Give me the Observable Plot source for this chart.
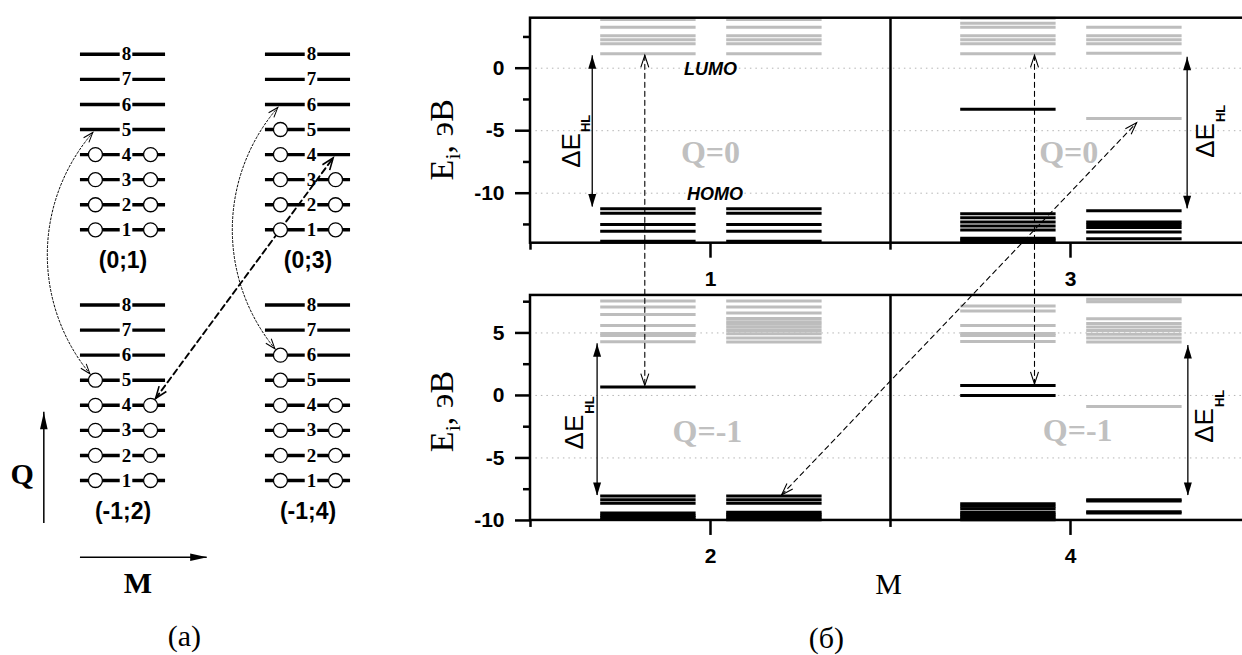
<!DOCTYPE html>
<html>
<head>
<meta charset="utf-8">
<script src="https://cdn.jsdelivr.net/npm/d3@7"></script>
<script src="https://cdn.jsdelivr.net/npm/@observablehq/plot@0.6"></script>
<style>
  html, body { margin: 0; padding: 0; background: #fff; overflow: hidden; }
  #figure { position: relative; width: 1242px; height: 655px; overflow: hidden; background: #fff; }
  #figure > div { position: absolute; top: 0; }
  #figure svg { max-width: none; overflow: visible; }
</style>
</head>
<body>
<div id="figure">
  <div id="scheme" style="left:0px"></div>
  <div id="spectra" style="left:400px"></div>
</div>
<script>
// ================= (a) occupation scheme =================
const levelNumbers = [1, 2, 3, 4, 5, 6, 7, 8];
const stateNames  = ["(0;1)", "(0;3)", "(-1;2)", "(-1;4)"];
const stateColumn = [0, 1, 0, 1];   // along M
const stateRow    = [1, 1, 0, 0];   // along Q (1: Q = 0, 0: Q = -1)
const filledUp    = [4, 5, 5, 6];   // highest filled level, left column
const filledDown  = [4, 3, 4, 4];   // highest filled level, right column

// transitions: [state, level, side], side -1 = left column, +1 = right column
const jumpFromA = [[2, 5, -1], [3, 6, -1], [2, 4, 1]];
const jumpToA   = [[0, 5, -1], [1, 6, -1], [1, 4, 1]];
const jumpBendA = [42, 42, 0];
const jumpKindA = ["dotted", "dotted", "dashed"];

// ================= (б) one-electron spectra, eV =================
// Q = 0
const occ_Q0_M1_up  = [-11.25, -11.6, -12.5, -13.04, -13.85];
const occ_Q0_M1_dn  = [-11.25, -11.6, -12.5, -13.04, -13.85];
const virt_Q0_M1_up = [3.9, 3.28, 2.6, 2.27, 1.95, 1.15];
const virt_Q0_M1_dn = [3.9, 3.28, 2.6, 2.27, 1.95, 1.15];
const occ_Q0_M3_up  = [-3.28, -11.65, -11.97, -12.3, -12.62, -12.95, -13.6, -13.75, -13.9];
const occ_Q0_M3_dn  = [-11.4, -12.3, -12.5, -12.75, -13.1, -13.65];
const virt_Q0_M3_up = [4.0, 3.6, 3.28, 2.6, 2.27, 1.95, 1.15];
const virt_Q0_M3_dn = [3.28, 2.6, 2.27, 1.95, 1.2, -4.02];
// Q = -1
const occ_Qm1_M2_up  = [0.67, -8.05, -8.34, -8.63, -9.4, -9.6, -9.75, -9.9];
const occ_Qm1_M2_dn  = [-8.05, -8.34, -8.63, -9.35, -9.5, -9.65, -9.8, -9.95];
const virt_Qm1_M2_up = [7.55, 7.07, 6.47, 5.6, 4.95, 4.8, 4.3];
const virt_Qm1_M2_dn = [7.55, 7.07, 6.6, 6.15, 5.9, 5.7, 5.45, 5.2, 4.93, 4.6, 4.27];
const occ_Qm1_M4_up  = [0.8, 0.0, -8.67, -8.87, -9.07, -9.35, -9.5, -9.65, -9.8, -9.95];
const occ_Qm1_M4_dn  = [-8.35, -8.45, -9.3, -9.4];
const virt_Qm1_M4_up = [7.15, 6.75, 5.6, 4.95, 4.8, 4.32];
const virt_Qm1_M4_dn = [7.7, 7.5, 6.13, 5.75, 5.47, 5.2, 4.9, 4.6, 4.27, -0.88];

const clusterQ    = [0, 0, -1, -1];
const clusterM    = [1, 3, 2, 4];
const clusterSlot = [0, 1, 0, 1];
const clusterOcc  = [[occ_Q0_M1_up, occ_Q0_M1_dn], [occ_Q0_M3_up, occ_Q0_M3_dn],
                     [occ_Qm1_M2_up, occ_Qm1_M2_dn], [occ_Qm1_M4_up, occ_Qm1_M4_dn]];
const clusterVirt = [[virt_Q0_M1_up, virt_Q0_M1_dn], [virt_Q0_M3_up, virt_Q0_M3_dn],
                     [virt_Qm1_M2_up, virt_Qm1_M2_dn], [virt_Qm1_M4_up, virt_Qm1_M4_dn]];

const eRangeQ0 = [-14, 4],  eTicksQ0 = [0, -5, -10],    eMinorQ0 = [2.5, -2.5, -7.5, -12.5];
const eRangeQm1 = [-10, 8], eTicksQm1 = [5, 0, -5, -10], eMinorQm1 = [7.5, 2.5, -2.5, -7.5];

// HOMO–LUMO gap arrows
const gapQ = [0, 0, -1, -1];
const gapX = [0.343, 3.648, 0.37, 3.652];
const gapHigh = [1.0, 0.88, 4.13, 4.0];
const gapLow = [-11.1, -11.25, -8.0, -8.0];
const gapLabelX = [0.226, 3.75, 0.244, 3.744];
const gapLabelE = [-6.58, -5.78, -2.93, -2.4];

// panel captions
const qLabelText = ["Q=0", "Q=0", "Q=-1", "Q=-1"];
const qLabelX = [1.0, 2.99, 0.983, 3.04];
const qLabelE = [-6.76, -6.76, -2.94, -2.8];

// electron transfers between clusters: x, E, Q for both ends
const jumpX1 = [0.635, 2.8, 1.389];
const jumpE1 = [d3.min(virt_Q0_M1_up), d3.min(virt_Q0_M3_up), d3.max(occ_Qm1_M2_dn)];
const jumpQ1 = [0, 0, -1];
const jumpX2 = [0.635, 2.8, 3.39];
const jumpE2 = [d3.max(occ_Qm1_M2_up), d3.max(occ_Qm1_M4_up), d3.min(virt_Q0_M3_dn)];
const jumpQ2 = [-1, -1, 0];
const jumpInset1 = [1.5, 1.5, 1.5];
const jumpInset2 = [1.5, 1.5, 6];

// ================= shared helpers =================
const H = 655;
const SANS = "Liberation Sans, Arial, Helvetica, sans-serif";
const SERIF = "Liberation Serif, Times New Roman, serif";
const deg = 180 / Math.PI;

const spike = (len, hw) => ({draw(ctx) { ctx.moveTo(0, 0); ctx.lineTo(-hw, len); ctx.lineTo(hw, len); ctx.closePath(); }});
const chevron = (len, hw) => ({draw(ctx) { ctx.moveTo(-hw, len); ctx.lineTo(0, 0); ctx.lineTo(hw, len); }});
const rotOf = (d) => Math.atan2(d[0], -d[1]) * deg;

// trims a straight or circular connector (screen coordinates) by s1/s2 pixels at its ends
function connector(P1, P2, bendDeg, s1, s2) {
  const dx = P2[0] - P1[0], dy = P2[1] - P1[1];
  const L = Math.hypot(dx, dy), phi = Math.atan2(dy, dx);
  const th = bendDeg / deg;
  if (!th) {
    const ux = dx / L, uy = dy / L;
    return {A: [P1[0] + ux * s1, P1[1] + uy * s1], B: [P2[0] - ux * s2, P2[1] - uy * s2],
            bend: 0, dirA: [-ux, -uy], dirB: [ux, uy]};
  }
  const r = L / (2 * Math.sin(th));
  const mx = (P1[0] + P2[0]) / 2, my = (P1[1] + P2[1]) / 2;
  const C = [mx - Math.sin(phi) * r * Math.cos(th), my + Math.cos(phi) * r * Math.cos(th)];
  const a1o = Math.atan2(P1[1] - C[1], P1[0] - C[0]);
  const a1 = a1o + 2 * Math.asin(s1 / (2 * r));
  const a2 = a1o + 2 * th - 2 * Math.asin(s2 / (2 * r));
  return {A: [C[0] + r * Math.cos(a1), C[1] + r * Math.sin(a1)],
          B: [C[0] + r * Math.cos(a2), C[1] + r * Math.sin(a2)],
          bend: (a2 - a1) / 2 * deg,
          dirA: [Math.sin(a1), -Math.cos(a1)], dirB: [-Math.sin(a2), Math.cos(a2)]};
}

// ================= (a) =================
const LA = {width: 400, col0: 122.5, colStep: 185, lvl1: 480, lvlStep: 25.07, rowStep: 10, slot: 0.149, half: 0.23};
const xDomA = [-LA.col0 / LA.colStep, (LA.width - LA.col0) / LA.colStep];
const yDomA = [1 - (H - LA.lvl1) / LA.lvlStep, 1 + LA.lvl1 / LA.lvlStep];
const sxA = Plot.scale({x: {domain: xDomA, range: [0, LA.width]}});
const syA = Plot.scale({y: {domain: yDomA, range: [H, 0]}});
const vA = (s, k) => k + LA.rowStep * stateRow[s];
const isFilled = (s, k, side) => side < 0 ? k <= filledUp[s] : k <= filledDown[s];

const segA = [], numA = [], dotA = [];
stateNames.forEach((name, s) => {
  const c = stateColumn[s];
  levelNumbers.forEach(k => {
    const v = vA(s, k);
    segA.push({x1: c - LA.half, x2: c - 0.015, v});
    segA.push({x1: c + 0.053, x2: c + LA.half, v});
    numA.push({x: c + 0.019, v, t: String(k)});
    if (isFilled(s, k, -1)) dotA.push({x: c - LA.slot, v});
    if (isFilled(s, k, 1)) dotA.push({x: c + LA.slot, v});
  });
});
const stateLabelA = stateNames.map((t, s) => ({x: stateColumn[s], v: LA.rowStep * stateRow[s] - 0.23, t}));

const jumpsA = jumpFromA.map((f, i) => {
  const t = jumpToA[i];
  const P1 = [sxA.apply(stateColumn[f[0]] + f[2] * LA.slot), syA.apply(vA(f[0], f[1]))];
  const P2 = [sxA.apply(stateColumn[t[0]] + t[2] * LA.slot), syA.apply(vA(t[0], t[1]))];
  const g = connector(P1, P2, jumpBendA[i], isFilled(...f) ? 8.5 : 4, isFilled(...t) ? 8.5 : 4);
  return {x1: sxA.invert(g.A[0]), y1: syA.invert(g.A[1]), x2: sxA.invert(g.B[0]), y2: syA.invert(g.B[1]),
          bend: g.bend, kind: jumpKindA[i], rA: rotOf(g.dirA), rB: rotOf(g.dirB)};
});
const headsA = jumpsA.flatMap(d => [{x: d.x1, y: d.y1, r: d.rA, kind: d.kind}, {x: d.x2, y: d.y2, r: d.rB, kind: d.kind}]);

// Q and M directions
const axisQ = [{x: -0.428, v1: -0.715, v2: 3.72}];
const axisM = [{v: -2.06, x1: -0.23, x2: 0.455}];

const chartA = Plot.plot({
  width: LA.width, height: H, margin: 0,
  x: {domain: xDomA, range: [0, LA.width], axis: null},
  y: {domain: yDomA, range: [H, 0], axis: null},
  style: {fontFamily: SANS, background: "transparent", overflow: "visible"},
  marks: [
    Plot.ruleY(segA, {y: "v", x1: "x1", x2: "x2", stroke: "black", strokeWidth: 3.4}),
    ...jumpsA.map(d => Plot.arrow([d], {
      x1: "x1", y1: "y1", x2: "x2", y2: "y2", bend: d.bend, headLength: 0,
      stroke: "black",
      strokeWidth: d.kind === "dashed" ? 1.9 : 1,
      strokeDasharray: d.kind === "dashed" ? "6,4" : "2,2"
    })),
    Plot.dot(dotA, {x: "x", y: "v", r: 7, fill: "white", stroke: "black", strokeWidth: 1.3}),
    Plot.text(numA, {x: "x", y: "v", text: "t", fontFamily: SERIF, fontWeight: "bold", fontSize: 19}),
    Plot.text(stateLabelA, {x: "x", y: "v", text: "t", fontWeight: "bold", fontSize: 23}),
    Plot.dot(headsA.filter(d => d.kind === "dotted"), {x: "x", y: "y", rotate: "r", symbol: chevron(10, 3.5), fill: "none", stroke: "black", strokeWidth: 1}),
    Plot.dot(headsA.filter(d => d.kind === "dashed"), {x: "x", y: "y", rotate: "r", symbol: chevron(12, 4.5), fill: "none", stroke: "black", strokeWidth: 1.6}),
    // Q axis
    Plot.ruleX(axisQ, {x: "x", y1: "v1", y2: "v2", stroke: "black", strokeWidth: 1.5}),
    Plot.dot(axisQ, {x: "x", y: "v2", rotate: 0, symbol: spike(17, 3.8), fill: "black", stroke: "none"}),
    Plot.text(axisQ, {x: d => d.x - 0.117, y: () => 1.24, text: () => "Q", fontFamily: SERIF, fontWeight: "bold", fontSize: 30}),
    // M axis
    Plot.ruleY(axisM, {y: "v", x1: "x1", x2: "x2", stroke: "black", strokeWidth: 1.5}),
    Plot.dot(axisM, {x: "x2", y: "v", rotate: 90, symbol: spike(17, 3.8), fill: "black", stroke: "none"}),
    Plot.text(axisM, {x: () => 0.081, y: () => -3.11, text: () => "M", fontFamily: SERIF, fontWeight: "bold", fontSize: 30}),
    // caption
    Plot.text(["(a)"], {x: () => 0.332, y: () => -5.2, text: d => d, fontFamily: SERIF, fontSize: 30})
  ]
});
document.getElementById("scheme").append(chartA);

// ================= (б) =================
const LB = {width: 860, ml: 130, mr: 10, mt: 17.7, mb: 135.05, gapE: 26.18};
const vB = (q, e) => q === 0 ? e : e - LB.gapE;
const yDomB = [vB(-1, eRangeQm1[0]), vB(0, eRangeQ0[1])];
const sxB = Plot.scale({x: {domain: [0, 4], range: [LB.ml, LB.width - LB.mr]}});
const syB = Plot.scale({y: {domain: yDomB, range: [H - LB.mb, LB.mt]}});
const pxPerE = syB.apply(0) - syB.apply(1);
const minorLen = 7 / pxPerE, majorLen = 15 / pxPerE;

const levelRows = [];
clusterQ.forEach((q, i) => {
  const c = 1 + 2 * clusterSlot[i];
  const spans = [[c - 0.61, c - 0.08], [c + 0.09, c + 0.62]];
  [0, 1].forEach(side => {
    clusterVirt[i][side].forEach(e => levelRows.push({v: vB(q, e), x1: spans[side][0], x2: spans[side][1], occ: false}));
    clusterOcc[i][side].forEach(e => levelRows.push({v: vB(q, e), x1: spans[side][0], x2: spans[side][1], occ: true}));
  });
});

const frameRows = [
  {lo: vB(0, eRangeQ0[0]), hi: vB(0, eRangeQ0[1])},
  {lo: vB(-1, eRangeQm1[0]), hi: vB(-1, eRangeQm1[1])}
];
const gridRows = [...eTicksQ0.filter(e => e > eRangeQ0[0]).map(e => ({v: vB(0, e)})),
                  ...eTicksQm1.filter(e => e > eRangeQm1[0]).map(e => ({v: vB(-1, e)}))];
const yMajor = [...eTicksQ0.map(e => vB(0, e)), ...eTicksQm1.map(e => vB(-1, e))];
const yMajorText = new Map([...eTicksQ0.map(e => [vB(0, e), String(e)]), ...eTicksQm1.map(e => [vB(-1, e), String(e)])]);
const yMinor = [...eMinorQ0.map(e => vB(0, e)), ...eMinorQm1.map(e => vB(-1, e))];

// column ticks: top row labelled with M of Q = 0 clusters, bottom row with Q = -1 clusters
const colTicks = [1, 3];
const topRowLabels = colTicks.map((x, j) => ({x, t: String(clusterM[j])}));
const bottomText = new Map(colTicks.map((x, j) => [x, String(clusterM[2 + j])]));

const gapRows = gapQ.map((q, i) => ({x: gapX[i], hi: vB(q, gapHigh[i]), lo: vB(q, gapLow[i]),
                                      lx: gapLabelX[i], lv: vB(q, gapLabelE[i])}));
const qRows = qLabelText.map((t, i) => ({x: qLabelX[i], v: vB(i < 2 ? 0 : -1, qLabelE[i]), t}));

const jumpsB = jumpX1.map((x1, i) => {
  const P1 = [sxB.apply(x1), syB.apply(vB(jumpQ1[i], jumpE1[i]))];
  const P2 = [sxB.apply(jumpX2[i]), syB.apply(vB(jumpQ2[i], jumpE2[i]))];
  const g = connector(P1, P2, 0, jumpInset1[i], jumpInset2[i]);
  return {x1: sxB.invert(g.A[0]), y1: syB.invert(g.A[1]), x2: sxB.invert(g.B[0]), y2: syB.invert(g.B[1]),
          rA: rotOf(g.dirA), rB: rotOf(g.dirB)};
});
const headsB = jumpsB.flatMap(d => [{x: d.x1, y: d.y1, r: d.rA}, {x: d.x2, y: d.y2, r: d.rB}]);

// vertical axis titles (E_i, эВ) for both rows
const yTitles = [{x: -0.492, v: vB(0, -8.98)}, {x: -0.492, v: vB(-1, -4.54)}];
const titleFont = {fontFamily: SERIF, rotate: -90, textAnchor: "start"};
const tickFont = {fontSize: 21, fontWeight: "bold"};

const chartB = Plot.plot({
  width: LB.width, height: H,
  marginLeft: LB.ml, marginRight: LB.mr, marginTop: LB.mt, marginBottom: LB.mb,
  x: {domain: [0, 4], label: null},
  y: {domain: yDomB, label: null},
  style: {fontFamily: SANS, background: "transparent", overflow: "visible"},
  marks: [
    Plot.ruleY(gridRows, {y: "v", x1: 0.03, x2: 4.3, stroke: "#b4b4b4", strokeWidth: 1, strokeDasharray: "1.5,4"}),
    Plot.ruleY(levelRows.filter(d => !d.occ), {y: "v", x1: "x1", x2: "x2", stroke: "#bdbdbd", strokeWidth: 3}),
    Plot.ruleY(levelRows.filter(d => d.occ), {y: "v", x1: "x1", x2: "x2", stroke: "black", strokeWidth: 3}),
    // frames and divider between the two clusters of a row
    Plot.rect(frameRows, {x1: 0, x2: 4.3, y1: "lo", y2: "hi", fill: "none", stroke: "black", strokeWidth: 2.5}),
    Plot.ruleX(frameRows, {x: () => 2, y1: d => d.lo - minorLen, y2: "hi", stroke: "black", strokeWidth: 2.5}),
    // energy axes
    Plot.axisY(yMajor, {anchor: "left", tickSize: 15, tickPadding: 11, strokeWidth: 2.5, ...tickFont, tickFormat: d => yMajorText.get(d), label: null}),
    Plot.axisY(yMinor, {anchor: "left", tickSize: 7, strokeWidth: 2.5, tickFormat: () => "", label: null}),
    // column axis, upper row
    Plot.ruleX(colTicks, {x: d => d, y1: frameRows[0].lo - majorLen, y2: frameRows[0].lo, stroke: "black", strokeWidth: 2.5}),
    Plot.ruleX([0, 4], {x: d => d, y1: frameRows[0].lo - minorLen, y2: frameRows[0].lo, stroke: "black", strokeWidth: 2.5}),
    Plot.text(topRowLabels, {x: "x", y: () => vB(0, -16.87), text: "t", ...tickFont}),
    // column axis, lower row
    Plot.axisX(colTicks, {anchor: "bottom", tickSize: 15, tickPadding: 13, strokeWidth: 2.5, ...tickFont, tickFormat: d => bottomText.get(d), label: null}),
    Plot.axisX([0, 4], {anchor: "bottom", tickSize: 7, strokeWidth: 2.5, tickFormat: () => "", label: null}),
    // frontier orbital labels
    Plot.text([{t: "LUMO", v: -0.1, x: 1.0}, {t: "HOMO", v: -10.1, x: 1.025}], {x: "x", y: "v", text: "t", fontSize: 18, fontWeight: "bold", fontStyle: "italic"}),
    // charge labels
    Plot.text(qRows, {x: "x", y: "v", text: "t", fontFamily: SERIF, fontWeight: "bold", fontSize: 32, fill: "#c0c0c0"}),
    // HOMO–LUMO gaps
    Plot.ruleX(gapRows, {x: "x", y1: "lo", y2: "hi", stroke: "black", strokeWidth: 1.3}),
    Plot.dot(gapRows, {x: "x", y: "hi", rotate: 0, symbol: spike(13, 4), fill: "black", stroke: "none"}),
    Plot.dot(gapRows, {x: "x", y: "lo", rotate: 180, symbol: spike(13, 4), fill: "black", stroke: "none"}),
    Plot.text(gapRows, {x: "lx", y: "lv", text: () => "ΔE", rotate: -90, fontSize: 26}),
    Plot.text(gapRows, {x: "lx", y: "lv", text: () => "HL", rotate: -90, fontSize: 13, fontWeight: "bold", dx: 15, dy: -27}),
    // electron transfers
    Plot.arrow(jumpsB, {x1: "x1", y1: "y1", x2: "x2", y2: "y2", headLength: 0, stroke: "black", strokeWidth: 1.1, strokeDasharray: "5,4"}),
    Plot.dot(headsB, {x: "x", y: "y", rotate: "r", symbol: chevron(12, 4), fill: "none", stroke: "black", strokeWidth: 1.1}),
    // axis titles
    Plot.text(yTitles, {x: "x", y: "v", text: () => "E", fontSize: 34, ...titleFont}),
    Plot.text(yTitles, {x: "x", y: "v", text: () => "i", fontSize: 22, dx: 11, dy: -21, ...titleFont}),
    Plot.text(yTitles, {x: "x", y: "v", text: () => ", эВ", fontSize: 34, dy: -27, ...titleFont}),
    Plot.text(["M"], {x: () => 1.99, y: () => -41.3, text: d => d, fontFamily: SERIF, fontSize: 30}),
    Plot.text(["(б)"], {x: () => 1.644, y: () => -45.6, text: d => d, fontFamily: SERIF, fontSize: 30})
  ]
});
document.getElementById("spectra").append(chartB);
</script>
</body>
</html>
